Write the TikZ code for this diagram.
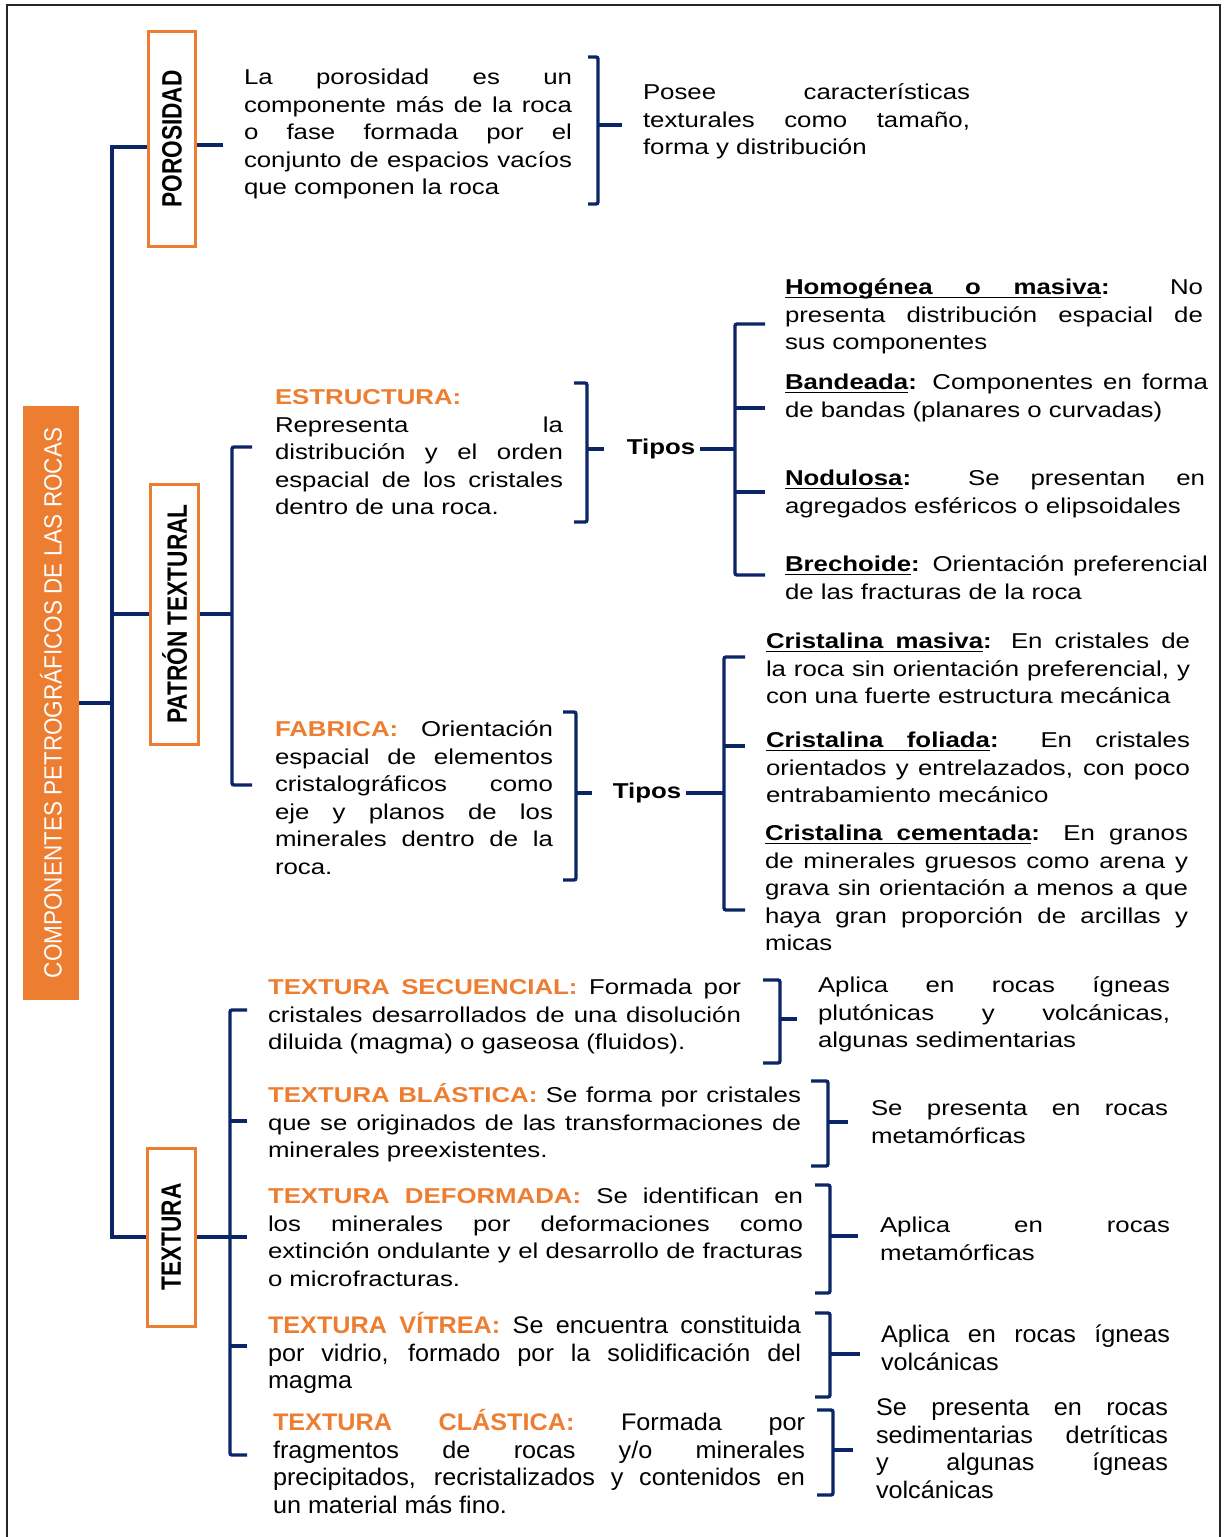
\documentclass[tikz,border=0pt]{standalone}
\usepackage{fontspec}
\setmainfont{Liberation Sans}[FakeStretch=1.2]
\newfontfamily\rotfont{Liberation Sans}[FakeStretch=0.81]
\newfontfamily\ttlfont{Liberation Sans}[FakeStretch=0.9]
\newfontfamily\narfont{Liberation Sans}[FakeStretch=1.05]
\definecolor{orng}{HTML}{ED7D31}
\definecolor{navy}{HTML}{0B2566}
% one justified line, as wide as the text block
\newcommand\J[1]{\makebox[\hsize][s]{#1}}
% start of every block: font spaces (with their stretch) and a fixed first-line height
\newcommand\fst{\spaceskip=0pt\xspaceskip=0pt\rule{0pt}{23pt}}
% orange bold heading inside a paragraph
\newcommand\hd[1]{\textcolor{orng}{\textbf{#1}}}
% underlined word, and an underlined interword space that still stretches
\newcommand\uw[1]{\setbox0\hbox{#1}\rlap{\rule[-3.6pt]{\wd0}{1.6pt}}\box0}
\newcommand\ulsp{\leaders\hrule height -2pt depth 3.6pt\hskip\fontdimen2\font plus\fontdimen3\font minus\fontdimen4\font\relax}
\begin{document}
\begin{tikzpicture}[x=1pt,y=-1pt,
  conn/.style={draw=navy, line width=3.4pt},
  brk/.style={draw=navy, line width=3.4pt, rounded corners=2pt},
  txt/.style={anchor=north west, inner sep=0pt, outer sep=0pt, align=left,
    font=\fontsize{21.5}{27.6}\selectfont},
  ntxt/.style={anchor=north west, inner sep=0pt, outer sep=0pt, align=left,
    font=\narfont\fontsize{24}{27.6}\selectfont},
  lbl/.style={draw=orng, line width=3pt, fill=white, rotate=90, inner sep=0pt,
    font=\rotfont\bfseries\fontsize{28}{28}\selectfont},
  tipos/.style={inner sep=5pt, font=\bfseries\fontsize{21.5}{24}\selectfont}]
\useasboundingbox (0,0) rectangle (1227,1537);

% outer frame
\draw[line width=2pt, black!85] (7,1545) -- (7,5) -- (1220,5) -- (1220,1545);

% title bar
\node[fill=orng, rotate=90, minimum width=594pt, minimum height=56pt, inner sep=0pt,
  text=white, font=\ttlfont\fontsize{25}{25}\selectfont] (title) at (51,703)
  {COMPONENTES PETROGRÁFICOS DE LAS ROCAS};

% the three branches
\node[lbl, minimum width=215pt, minimum height=47pt] (poro) at (172,139) {POROSIDAD};
\node[lbl, minimum width=260pt, minimum height=48pt] (pat) at (174.5,614) {PATRÓN TEXTURAL};
\node[lbl, minimum width=178pt, minimum height=48pt] (tex) at (171.5,1237) {TEXTURA};

% main spine
\coordinate (sx) at (112,0);
\coordinate (poroin) at ([yshift=-8pt]poro.north);
\coordinate (poroout) at ([yshift=-6pt]poro.south);
\draw[conn] (poroin) -- (poroin -| sx) -- (tex.north -| sx) -- (tex.north);
\draw[conn] (sx |- pat.north) -- (pat.north);
\draw[conn] (title.south) -- (title.south -| sx);

% ---------- POROSIDAD ----------
\draw[conn] (poroout) -- ++(26,0) coordinate (poroend);
\node[txt, text width=328pt] (poroT) at (244,61.5) {\fst\J{La porosidad es un}\\
  \J{componente más de la roca}\\
  \J{o fase formada por el}\\
  \J{conjunto de espacios vacíos}\\
  que componen la roca};
\draw[brk] (588,57) -- (598,57) -- (598,204) -- (588,204);
\draw[conn] (598,125) -- (622,125);
\node[txt, text width=327pt] (posee) at (643,76.5) {\fst\J{Posee características}\\
  \J{texturales como tamaño,}\\
  forma y distribución};

% ---------- PATRÓN TEXTURAL ----------
\coordinate (px) at (232,0);
\draw[conn] (pat.south) -- (pat.south -| px);
\draw[brk] (252,447) -- (232,447) -- (232,785) -- (252,785);

% estructura
\node[txt, text width=288pt] (estr) at (275,381.5) {\fst\hd{ESTRUCTURA:}\\
  \J{Representa la}\\
  \J{distribución y el orden}\\
  \J{espacial de los cristales}\\
  dentro de una roca.};
\draw[brk] (574,383) -- (587,383) -- (587,522) -- (574,522);
\draw[conn] (587,449) -- (604,449);
\node[tipos] (tip1) at (661,449) {Tipos};
\coordinate (v1) at (735,0);
\draw[conn] (tip1.east) -- (tip1.east -| v1);
\draw[brk] (765,324) -- (735,324) -- (735,575) -- (765,575);
\draw[conn] (735,408) -- (765,408);
\draw[conn] (735,492) -- (765,492);

\node[txt, text width=418pt] (homog) at (785,271.5) {\fst\J{\textbf{\uw{Homogénea}\ulsp\uw{o}\ulsp\uw{masiva}:} No}\\
  \J{presenta distribución espacial de}\\
  sus componentes};
\node[txt, text width=423pt] (band) at (785,366.5) {\fst\J{\textbf{\uw{Bandeada}:} Componentes en forma}\\
  de bandas (planares o curvadas)};
\node[txt, text width=420pt] (nod) at (785,462.5) {\fst\J{\textbf{\uw{Nodulosa}:} Se presentan en}\\
  agregados esféricos o elipsoidales};
\node[txt, text width=423pt] (brech) at (785,548.5) {\fst\J{\textbf{\uw{Brechoide}:} Orientación preferencial}\\
  de las fracturas de la roca};

% fabrica
\node[txt, text width=278pt] (fab) at (275,713.5) {\fst\J{\hd{FABRICA:} Orientación}\\
  \J{espacial de elementos}\\
  \J{cristalográficos como}\\
  \J{eje y planos de los}\\
  \J{minerales dentro de la}\\
  roca.};
\draw[brk] (563,712) -- (576,712) -- (576,880) -- (563,880);
\draw[conn] (576,793) -- (592,793);
\node[tipos] (tip2) at (647,793) {Tipos};
\coordinate (v2) at (724,0);
\draw[conn] (tip2.east) -- (tip2.east -| v2);
\draw[brk] (745,657) -- (724,657) -- (724,910) -- (745,910);
\draw[conn] (724,746) -- (745,746);

\node[txt, text width=424pt] (cmas) at (766,625.5) {\fst\J{\textbf{\uw{Cristalina}\ulsp\uw{masiva}:} En cristales de}\\
  \J{la roca sin orientación preferencial, y}\\
  con una fuerte estructura mecánica};
\node[txt, text width=424pt] (cfol) at (766,724.5) {\fst\J{\textbf{\uw{Cristalina}\ulsp\uw{foliada}:} En cristales}\\
  \J{orientados y entrelazados, con poco}\\
  entrabamiento mecánico};
\node[txt, text width=423pt] (ccem) at (765,817.5) {\fst\J{\textbf{\uw{Cristalina}\ulsp\uw{cementada}:} En granos}\\
  \J{de minerales gruesos como arena y}\\
  \J{grava sin orientación a menos a que}\\
  \J{haya gran proporción de arcillas y}\\
  micas};

% ---------- TEXTURA ----------
\coordinate (tx) at (247,0);
\draw[conn] (tex.south) -- (tex.south -| tx);
\draw[brk] (247,1010) -- (230,1010) -- (230,1455) -- (247,1455);
\draw[conn] (230,1121) -- (247,1121);
\draw[conn] (230,1346) -- (247,1346);

\node[txt, text width=473pt] (tsec) at (268,971.5) {\fst\J{\hd{TEXTURA SECUENCIAL:} Formada por}\\
  \J{cristales desarrollados de una disolución}\\
  diluida (magma) o gaseosa (fluidos).};
\draw[brk] (763,980) -- (780,980) -- (780,1063) -- (763,1063);
\draw[conn] (780,1019) -- (797,1019);
\node[txt, text width=352pt] (tsecR) at (818,969.5) {\fst\J{Aplica en rocas ígneas}\\
  \J{plutónicas y volcánicas,}\\
  algunas sedimentarias};

\node[txt, text width=533pt] (tbla) at (268,1079.5) {\fst\J{\hd{TEXTURA BLÁSTICA:} Se forma por cristales}\\
  \J{que se originados de las transformaciones de}\\
  minerales preexistentes.};
\draw[brk] (811,1081) -- (828,1081) -- (828,1166) -- (811,1166);
\draw[conn] (828,1122) -- (848,1122);
\node[txt, text width=297pt] (tblaR) at (871,1092.5) {\fst\J{Se presenta en rocas}\\
  metamórficas};

\node[txt, text width=535pt] (tdef) at (268,1180.5) {\fst\J{\hd{TEXTURA DEFORMADA:} Se identifican en}\\
  \J{los minerales por deformaciones como}\\
  \J{extinción ondulante y el desarrollo de fracturas}\\
  o microfracturas.};
\draw[brk] (815,1185) -- (830,1185) -- (830,1293) -- (815,1293);
\draw[conn] (830,1236) -- (858,1236);
\node[txt, text width=290pt] (tdefR) at (880,1209.5) {\fst\J{Aplica en rocas}\\
  metamórficas};

\node[ntxt, text width=533pt] (tvit) at (268,1310.5) {\fst\J{\hd{TEXTURA VÍTREA:} Se encuentra constituida}\\
  \J{por vidrio, formado por la solidificación del}\\
  magma};
\draw[brk] (815,1313) -- (830,1313) -- (830,1397) -- (815,1397);
\draw[conn] (830,1354) -- (860,1354);
\node[ntxt, text width=289pt] (tvitR) at (881,1319.5) {\fst\J{Aplica en rocas ígneas}\\
  volcánicas};

\node[ntxt, text width=532pt] (tcla) at (273,1407.5) {\fst\J{\hd{TEXTURA CLÁSTICA:} Formada por}\\
  \J{fragmentos de rocas y/o minerales}\\
  \J{precipitados, recristalizados y contenidos en}\\
  un material más fino.};
\draw[brk] (817,1410) -- (833,1410) -- (833,1495) -- (817,1495);
\draw[conn] (833,1450) -- (853,1450);
\node[ntxt, text width=292pt] (tclaR) at (876,1392.5) {\fst\J{Se presenta en rocas}\\
  \J{sedimentarias detríticas}\\
  \J{y algunas ígneas}\\
  volcánicas};
\end{tikzpicture}
\end{document}
